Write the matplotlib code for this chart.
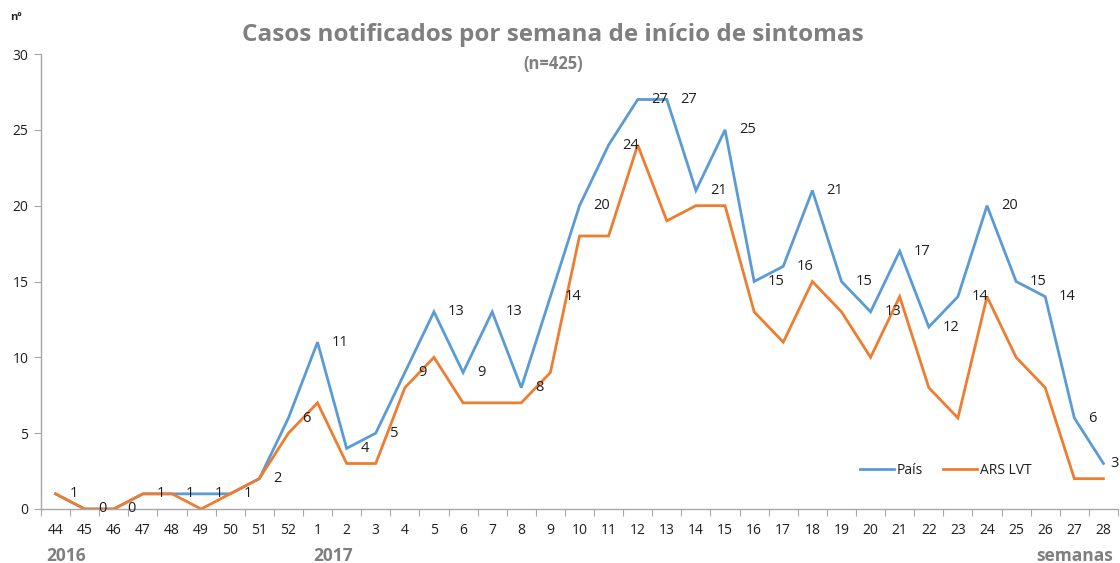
import matplotlib.pyplot as plt
import numpy as np

# Semanas epidemiologicas (44/2016 a 28/2017)
semanas = ['44', '45', '46', '47', '48', '49', '50', '51', '52'] + [str(i) for i in range(1, 29)]

# Casos notificados - Pais
pais = [1, 0, 0, 1, 1, 1, 1, 2, 6, 11, 4, 5, 9, 13, 9, 13, 8, 14, 20, 24, 27, 27,
        21, 25, 15, 16, 21, 15, 13, 17, 12, 14, 20, 15, 14, 6, 3]

# Casos notificados - ARS LVT
lvt = [1, 0, 0, 1, 1, 0, 1, 2, 5, 7, 3, 3, 8, 10, 7, 7, 7, 9, 18, 18, 24, 19,
       20, 20, 13, 11, 15, 13, 10, 14, 8, 6, 14, 10, 8, 2, 2]

plt.rcParams['font.family'] = ['Open Sans', 'DejaVu Sans']

blue = '#5B9BD5'
orange = '#ED7D31'
grey = '#7F7F7F'
axis_col = '#A6A6A6'
txt = '#1F1F1F'

fig = plt.figure(figsize=(11.2, 5.63), dpi=100)
ax = fig.add_axes([41 / 1120, 1 - 509 / 563, (1118 - 41) / 1120, (509 - 54) / 563])

x = np.arange(len(semanas))
ax.plot(x, pais, color=blue, linewidth=2.0, label='País', solid_joinstyle='miter')
ax.plot(x, lvt, color=orange, linewidth=2.0, label='ARS LVT', solid_joinstyle='miter')

# Etiquetas de dados (Pais), a direita do ponto
for xi, v in zip(x, pais):
    dx = 10 if xi < len(x) - 1 else 5   # a ultima fica junto a margem
    ax.annotate(str(v), (xi, v), xytext=(dx, 0), textcoords='offset points',
                ha='left', va='center', fontsize=10.5, color=txt)

ax.set_xlim(-0.5, len(semanas) - 0.5)
ax.set_ylim(0, 30)
ax.set_yticks(range(0, 31, 5))

# Marcas entre categorias, etiquetas no centro
ax.set_xticks(np.arange(-0.5, len(semanas), 1))
ax.set_xticklabels([])
ax.set_xticks(x, minor=True)
ax.set_xticklabels(semanas, minor=True)
ax.tick_params(axis='x', which='major', length=5, color=axis_col, direction='out')
ax.tick_params(axis='x', which='minor', length=0, pad=10, labelsize=10, labelcolor=txt)
ax.tick_params(axis='y', length=5, color=axis_col, labelsize=10, labelcolor=txt, pad=4)

for s in ['top', 'right']:
    ax.spines[s].set_visible(False)
for s in ['left', 'bottom']:
    ax.spines[s].set_color(axis_col)
    ax.spines[s].set_linewidth(1.0)

leg = ax.legend(loc='center', bbox_to_anchor=(0.84, 0.085), ncol=2, frameon=False,
                fontsize=10, handlelength=2.4, columnspacing=1.5, handletextpad=0.2)
for t in leg.get_texts():
    t.set_color(txt)

fig.text(553 / 1120, 1 - 35 / 563, 'Casos notificados por semana de início de sintomas',
         ha='center', va='center', fontsize=17.5, fontweight='bold', color=grey)
fig.text(553 / 1120, 1 - 64 / 563, '(n=425)', ha='center', va='center',
         fontsize=12, fontweight='bold', color=grey)
fig.text(10 / 1120, 1 - 18 / 563, 'nº', ha='left', va='center', fontsize=8,
         fontweight='bold', color=txt)
fig.text(66 / 1120, 1 - 556 / 563, '2016', ha='center', va='center', fontsize=12.5,
         fontweight='bold', color=grey)
fig.text(333 / 1120, 1 - 556 / 563, '2017', ha='center', va='center', fontsize=12.5,
         fontweight='bold', color=grey)
fig.text(1113 / 1120, 1 - 556 / 563, 'semanas', ha='right', va='center', fontsize=12.5,
         fontweight='bold', color=grey)

fig.savefig('out.png', dpi=100)
